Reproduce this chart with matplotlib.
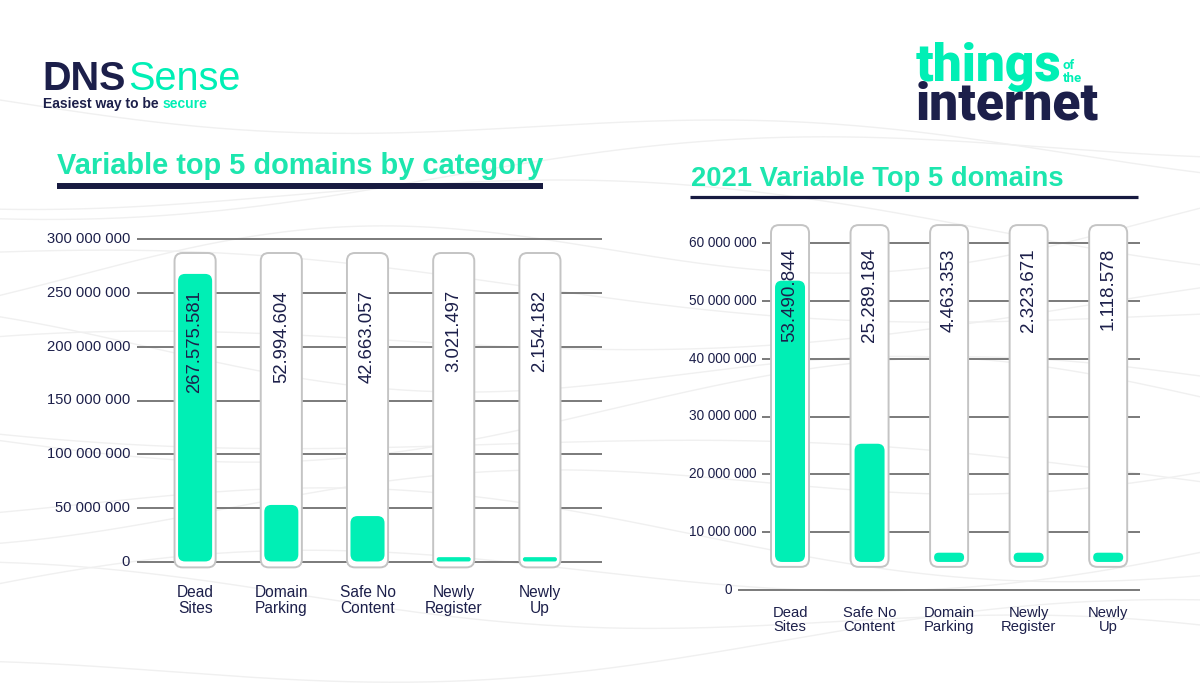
import matplotlib
matplotlib.use("Agg")
import matplotlib.pyplot as plt
import numpy as np
from matplotlib.patches import FancyBboxPatch
from matplotlib.lines import Line2D
import matplotlib.transforms as mtransforms

plt.rcParams['font.family'] = ['Liberation Sans', 'DejaVu Sans']

# data
left_categories = ["Dead\nSites", "Domain\nParking", "Safe No\nContent", "Newly\nRegister", "Newly\nUp"]
left_values = [267575581, 52994604, 42663057, 3021497, 2154182]
left_labels = ["267.575.581", "52.994.604", "42.663.057", "3.021.497", "2.154.182"]
left_ticks = [0, 50e6, 100e6, 150e6, 200e6, 250e6, 300e6]
left_ticklabels = ["0", "50 000 000", "100 000 000", "150 000 000", "200 000 000", "250 000 000", "300 000 000"]

right_categories = ["Dead\nSites", "Safe No\nContent", "Domain\nParking", "Newly\nRegister", "Newly\nUp"]
right_values = [53490844, 25289184, 4463353, 2323671, 1118578]
right_labels = ["53.490.844", "25.289.184", "4.463.353", "2.323.671", "1.118.578"]
right_ticks = [0, 10e6, 20e6, 30e6, 40e6, 50e6, 60e6]
right_ticklabels = ["0", "10 000 000", "20 000 000", "30 000 000", "40 000 000", "50 000 000", "60 000 000"]

GREEN = '#00efb5'
TGREEN = '#1de6ae'
NAVY = '#1c1f4a'
GRID = '#707070'
PILL_EDGE = '#c4c4c4'

W, H = 1200, 689
fig = plt.figure(figsize=(12, 6.89), dpi=100)
fig.patch.set_facecolor('white')


def px(x, y):
    return x / W, 1 - y / H


# faint wavy background lines (decoration only)
bg = fig.add_axes([0, 0, 1, 1], zorder=-5)
bg.set_xlim(0, W)
bg.set_ylim(H, 0)
bg.axis('off')
xs = np.linspace(0, W, 300)
for k in range(14):
    y0 = 130 + k * 40
    amp = 18 + (k % 4) * 6
    ph = k * 0.9
    bg.plot(xs, y0 + amp * np.sin(xs / (170 + 25 * (k % 3)) + ph) + 0.05 * (xs - 600) * ((-1) ** k),
            color='#f0f0f0', lw=1.0)


def rbox(ax, xc, y0, y1, w, r_px, **kw):
    x0, x1 = ax.get_xlim()
    ya, yb = ax.get_ylim()
    pxx = ax.bbox.width / (x1 - x0)
    pxy = ax.bbox.height / (yb - ya)
    aspect = pxx / pxy
    h_scaled = (y1 - y0) / aspect
    r = min(r_px / pxx, w / 2, h_scaled / 2)
    p = FancyBboxPatch((xc - w / 2, y0), w, y1 - y0,
                       boxstyle=f"round,pad=0,rounding_size={r}",
                       mutation_aspect=aspect, clip_on=False, **kw)
    ax.add_patch(p)
    return p


def panel(rect, xlim, ylim, cats, vals, labels, ticks, ticklabels,
          pill_w, bar_w, pill_lo, pill_hi, bar_lo, min_h, text_y,
          cat_y, tick_fs, val_fs, cat_fs, grid_xmin, label_x, zero_x):
    ax = fig.add_axes(rect)
    ax.set_xlim(*xlim)
    ax.set_ylim(*ylim)
    ax.axis('off')
    tr = mtransforms.blended_transform_factory(ax.transAxes, ax.transData)
    for t, lab in zip(ticks, ticklabels):
        xm = 0 if t == 0 else grid_xmin
        ax.plot([xm, 1], [t, t], transform=tr, color=GRID, lw=1.3, zorder=1,
                clip_on=False, solid_capstyle='butt')
        lx = zero_x if t == 0 else label_x
        ax.text(lx, t, lab, transform=tr, ha='right', va='center',
                fontsize=tick_fs, color=NAVY)
    ctr = mtransforms.blended_transform_factory(ax.transData, ax.transAxes)
    for i, (v, lab, cat) in enumerate(zip(vals, labels, cats)):
        rbox(ax, i, pill_lo, pill_hi, pill_w, 8, facecolor='white',
             edgecolor=PILL_EDGE, lw=1.4, zorder=2)
        top = max(v, bar_lo + min_h)
        rbox(ax, i, bar_lo, top, bar_w, 7, facecolor=GREEN,
             edgecolor='none', zorder=3)
        ax.text(i, text_y, lab, rotation=90, ha='center', va='top',
                fontsize=val_fs, color=NAVY, zorder=4)
        ax.text(i, cat_y, cat, transform=ctr, ha='center', va='top',
                fontsize=cat_fs, color=NAVY, linespacing=1.05)
    return ax


# left chart
lb = px(137, 562)
lt = px(602, 239)
panel([lb[0], lb[1], lt[0] - lb[0], lt[1] - lb[1]], (-0.674, 4.72), (0, 300e6),
      left_categories, left_values, left_labels, left_ticks, left_ticklabels,
      pill_w=0.477, bar_w=0.395, pill_lo=-5e6, pill_hi=287e6, bar_lo=0.5e6,
      min_h=4e6, text_y=252.5e6, cat_y=-0.072, tick_fs=10.6, val_fs=13.3,
      cat_fs=11.2, grid_xmin=0.0, label_x=-0.015, zero_x=-0.015)

# right chart
rb = px(738, 590)
rt = px(1140, 243)
panel([rb[0], rb[1], rt[0] - rb[0], rt[1] - rb[1]], (-0.654, 4.40), (0, 60e6),
      right_categories, right_values, right_labels, right_ticks, right_ticklabels,
      pill_w=0.478, bar_w=0.377, pill_lo=4.0e6, pill_hi=63.1e6, bar_lo=4.85e6,
      min_h=1.6e6, text_y=59.1e6, cat_y=-0.045, tick_fs=9.8, val_fs=13.5,
      cat_fs=10.6, grid_xmin=0.06, label_x=0.047, zero_x=-0.015)

# titles
fig.text(*px(57, 174), "Variable top 5 domains by category", fontsize=20.9,
         fontweight='bold', color=TGREEN, ha='left', va='baseline')
fig.add_artist(Line2D([57 / W, 543 / W], [1 - 186 / H] * 2, color='#171a40', lw=4.3,
                      solid_capstyle='butt'))
fig.text(*px(691, 186), "2021 Variable Top 5 domains", fontsize=19.7,
         fontweight='bold', color=TGREEN, ha='left', va='baseline')
fig.add_artist(Line2D([690 / W, 1138 / W], [1 - 197 / H] * 2, color='#171a40', lw=2.3,
                      solid_capstyle='butt'))

# logos
renderer = fig.canvas.get_renderer()
t1 = fig.text(*px(42, 90), "DNS", fontsize=28.5, fontweight='bold', color=NAVY,
              ha='left', va='baseline')
ext = t1.get_window_extent(renderer)
fig.text(ext.x1 / W + 0.002, 1 - 90 / H, "Sense", fontsize=28.5, color=GREEN,
         ha='left', va='baseline')
t2 = fig.text(*px(43, 108), "Easiest way to be ", fontsize=10, fontweight='bold',
              color=NAVY, ha='left', va='baseline')
ext = t2.get_window_extent(renderer)
fig.text(ext.x1 / W, 1 - 108 / H, "secure", fontsize=10, fontweight='bold',
         color=GREEN, ha='left', va='baseline')

t3 = fig.text(*px(916, 81), "things", fontsize=37, fontweight='black', color=GREEN,
              ha='left', va='baseline', family=['Roboto', 'DejaVu Sans'])
ext = t3.get_window_extent(renderer)
fig.text(ext.x1 / W + 0.001, 1 - 82 / H, "of\nthe", fontsize=9.5, fontweight='bold',
         color=GREEN, ha='left', va='baseline', linespacing=1.0,
         family=['Roboto', 'DejaVu Sans'])
fig.text(*px(916, 119), "internet", fontsize=37, fontweight='black', color=NAVY,
         ha='left', va='baseline', family=['Roboto', 'DejaVu Sans'])

fig.savefig("out.png", dpi=100, facecolor='white')
